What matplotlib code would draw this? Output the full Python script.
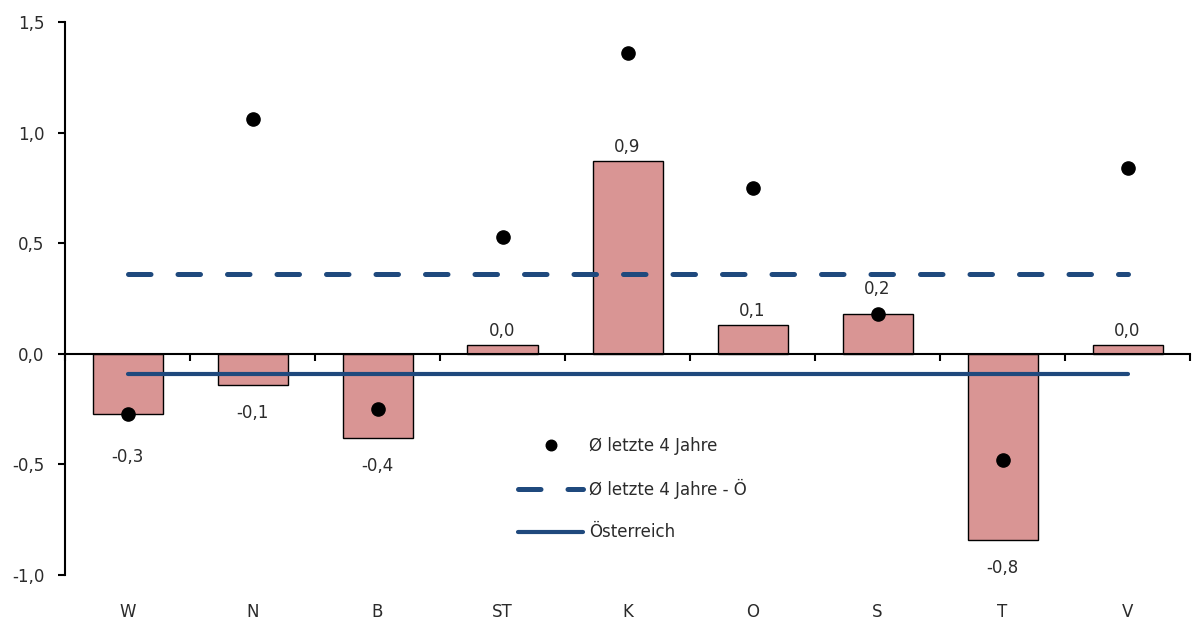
import matplotlib
matplotlib.use("Agg")
import matplotlib.pyplot as plt
from matplotlib.ticker import FuncFormatter, FixedLocator
import numpy as np

# Regions and values
categories = ["W", "N", "B", "ST", "K", "O", "S", "T", "V"]
change = [-0.27, -0.14, -0.38, 0.04, 0.87, 0.13, 0.18, -0.84, 0.04]
avg_last4 = [-0.27, 1.06, -0.25, 0.53, 1.36, 0.75, 0.18, -0.48, 0.84]
avg_last4_austria = 0.36
austria = -0.09

label_avg = "Ø letzte 4 Jahre"
label_avg_at = "Ø letzte 4 Jahre - Ö"
label_at = "Österreich"

BAR_COLOR = "#D99594"
LINE_COLOR = "#1F497D"
TEXT_COLOR = "#2B2B2B"

plt.rcParams["font.family"] = ["DejaVu Sans"]
plt.rcParams["font.size"] = 12

fig = plt.figure(figsize=(11.92, 6.19), dpi=100)
ax = fig.add_axes([65 / 1192, 1 - 575 / 619, 1125 / 1192, 553 / 619])

x = np.arange(len(categories))

ax.bar(x, change, width=0.56, color=BAR_COLOR, edgecolor="black",
       linewidth=1.0, zorder=2)

xs = [x[0], x[-1]]
dash_line, = ax.plot(xs, [avg_last4_austria] * 2, color=LINE_COLOR, lw=3.6,
                     dashes=(4.5, 5.4), dash_capstyle="round",
                     solid_capstyle="round", zorder=3, label=label_avg_at)
solid_line, = ax.plot(xs, [austria] * 2, color=LINE_COLOR, lw=3.0,
                      solid_capstyle="round", zorder=3, label=label_at)
dots, = ax.plot(x, avg_last4, linestyle="none", marker="o", ms=9.5,
                color="black", zorder=4, label=label_avg)

# Value labels on the bars, nudged clear of a dot sitting on the bar end
for xi, v, d in zip(x, change, avg_last4):
    close = abs(d - v) < 0.05
    if v >= 0:
        off = 10 + (8 if close else 0)
    else:
        off = -(20.5 + (11 if close else 0))
    txt = f"{v:.1f}".replace(".", ",")
    if txt == "-0,0":
        txt = "0,0"
    ax.annotate(txt, (xi, v), xytext=(0, off), textcoords="offset points",
                ha="center", va="center", color=TEXT_COLOR, fontsize=12)

ax.set_xlim(-0.5, len(categories) - 0.5)
ax.set_ylim(-1.0, 1.5)
ax.set_yticks(np.arange(-1.0, 1.51, 0.5))
ax.yaxis.set_major_formatter(
    FuncFormatter(lambda v, p: f"{v:.1f}".replace(".", ",")))
ax.tick_params(axis="y", direction="out", length=5, width=1.5,
               colors="black", labelcolor=TEXT_COLOR, labelsize=12, pad=10)

# Zero axis with tick marks between categories
ax.spines["bottom"].set_position(("data", 0))
ax.spines["bottom"].set_linewidth(1.5)
ax.spines["left"].set_linewidth(1.5)
ax.spines["top"].set_visible(False)
ax.spines["right"].set_visible(False)
ax.xaxis.set_major_locator(FixedLocator(np.arange(-0.5, len(categories), 1.0)))
ax.tick_params(axis="x", direction="out", length=5, width=1.5,
               labelbottom=False)

# Category names along the bottom edge
sec = ax.secondary_xaxis(0.0)
sec.set_xticks(x, labels=categories)
sec.tick_params(length=0, pad=20, labelsize=12, labelcolor=TEXT_COLOR)
sec.spines["bottom"].set_visible(False)

leg = ax.legend(handles=[dots, dash_line, solid_line],
                loc="upper left",
                bbox_to_anchor=(518 / 1192, 1 - 437 / 619),
                bbox_transform=fig.transFigure,
                frameon=False, borderpad=0, borderaxespad=0,
                handlelength=3.9, handletextpad=0.35, labelspacing=1.45,
                numpoints=1, markerscale=0.8, fontsize=12)
for t in leg.get_texts():
    t.set_color(TEXT_COLOR)

fig.savefig("out.png", dpi=100)
